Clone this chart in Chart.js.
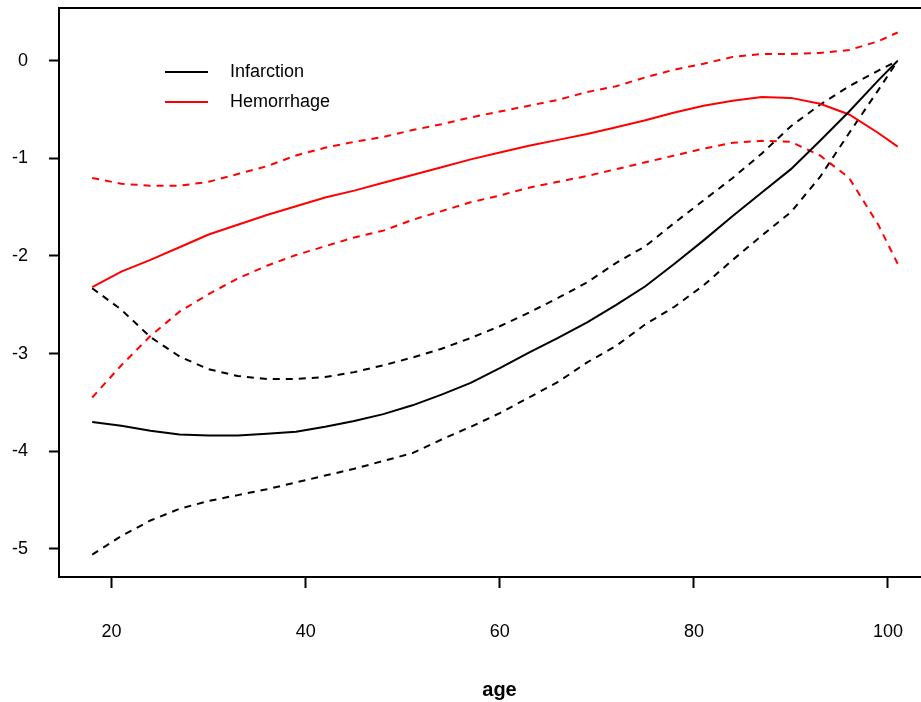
<!DOCTYPE html>
<html>
<head>
<meta charset="utf-8">
<script src="https://cdn.jsdelivr.net/npm/chart.js@4/dist/chart.umd.min.js"></script>
<style>
  html, body { margin: 0; padding: 0; background: #fff; overflow: hidden; }
  canvas { display: block; }
</style>
</head>
<body>
<canvas id="chart" width="940" height="702"></canvas>
<script>
const ages = [18, 21, 24, 27, 30, 33, 36, 39, 42, 45, 48, 51, 54, 57, 60, 63, 66, 69, 72, 75, 78, 81, 84, 87, 90, 93, 96, 99, 101];

// Infarction: estimate and its confidence band.
const infarction = [-3.70, -3.74, -3.79, -3.83, -3.84, -3.84, -3.82, -3.80, -3.75, -3.69, -3.62, -3.53, -3.42, -3.30, -3.15, -2.99, -2.84, -2.68, -2.50, -2.31, -2.08, -1.84, -1.59, -1.35, -1.11, -0.82, -0.52, -0.20, 0];
const infarctionUpper = [-2.33, -2.55, -2.83, -3.03, -3.16, -3.23, -3.26, -3.26, -3.24, -3.19, -3.12, -3.04, -2.95, -2.84, -2.72, -2.58, -2.43, -2.27, -2.07, -1.90, -1.66, -1.43, -1.20, -0.95, -0.67, -0.45, -0.26, -0.10, 0];
const infarctionLower = [-5.06, -4.87, -4.71, -4.59, -4.51, -4.45, -4.39, -4.32, -4.25, -4.18, -4.10, -4.02, -3.88, -3.75, -3.61, -3.45, -3.29, -3.09, -2.92, -2.70, -2.52, -2.30, -2.04, -1.79, -1.55, -1.19, -0.74, -0.30, 0];

// Hemorrhage: estimate and its confidence band.
const hemorrhage = [-2.32, -2.16, -2.04, -1.91, -1.78, -1.68, -1.58, -1.49, -1.40, -1.33, -1.25, -1.17, -1.09, -1.01, -0.94, -0.87, -0.81, -0.75, -0.68, -0.61, -0.53, -0.46, -0.41, -0.37, -0.38, -0.44, -0.55, -0.74, -0.88];
const hemorrhageUpper = [-1.20, -1.26, -1.28, -1.28, -1.24, -1.16, -1.08, -0.97, -0.89, -0.83, -0.78, -0.71, -0.65, -0.58, -0.52, -0.46, -0.40, -0.32, -0.26, -0.17, -0.09, -0.03, 0.04, 0.07, 0.07, 0.08, 0.11, 0.20, 0.29];
const hemorrhageLower = [-3.45, -3.12, -2.82, -2.57, -2.39, -2.23, -2.10, -1.99, -1.90, -1.81, -1.74, -1.63, -1.54, -1.45, -1.38, -1.30, -1.24, -1.18, -1.11, -1.04, -0.97, -0.90, -0.84, -0.82, -0.83, -0.97, -1.20, -1.68, -2.08];

// Tick labels.
const xTicks = [20, 40, 60, 80, 100];
const yTicks = [-5, -4, -3, -2, -1, 0];

const FONT = 'Arial, "Liberation Sans", sans-serif';

function points(values) {
  return ages.map((a, i) => ({ x: a, y: values[i] }));
}

function series(label, values, color, dashed, inLegend) {
  return {
    label: label,
    data: points(values),
    borderColor: color,
    borderWidth: 2,
    borderDash: dashed ? [7, 6] : [],
    pointRadius: 0,
    tension: 0,
    fill: false,
    inLegend: inLegend
  };
}

// Box round the plot: left, top and bottom sides (right side runs off the page).
const frame = {
  id: 'frame',
  afterDraw(chart) {
    const a = chart.chartArea;
    const ctx = chart.ctx;
    ctx.save();
    ctx.strokeStyle = '#000';
    ctx.lineWidth = 2;
    ctx.strokeRect(a.left, a.top, a.right - a.left, a.bottom - a.top);
    ctx.restore();
  }
};

// Legend drawn inside the plot, R style.
const innerLegend = {
  id: 'innerLegend',
  afterDraw(chart) {
    const ctx = chart.ctx;
    ctx.save();
    ctx.font = '18px ' + FONT;
    ctx.textBaseline = 'middle';
    let y = 72;
    chart.data.datasets.filter(d => d.inLegend).forEach(d => {
      ctx.strokeStyle = d.borderColor;
      ctx.lineWidth = 2;
      ctx.beginPath();
      ctx.moveTo(165, y);
      ctx.lineTo(208, y);
      ctx.stroke();
      ctx.fillStyle = '#000';
      ctx.fillText(d.label, 230, y);
      y += 30;
    });
    ctx.restore();
  }
};

const chart = new Chart('chart', {
  type: 'line',
  data: {
    datasets: [
      series('Infarction', infarction, '#000000', false, true),
      series('Hemorrhage', hemorrhage, '#ff0000', false, true),
      series('Infarction upper', infarctionUpper, '#000000', true, false),
      series('Infarction lower', infarctionLower, '#000000', true, false),
      series('Hemorrhage upper', hemorrhageUpper, '#ff0000', true, false),
      series('Hemorrhage lower', hemorrhageLower, '#ff0000', true, false)
    ]
  },
  options: {
    responsive: false,
    animation: false,
    devicePixelRatio: 1,
    layout: { padding: { top: 8, left: 0, right: 0, bottom: 0 } },
    plugins: {
      legend: { display: false },
      tooltip: { enabled: false }
    },
    scales: {
      x: {
        type: 'linear',
        min: 14.58,
        max: 105.36,
        afterBuildTicks: axis => { axis.ticks = xTicks.map(v => ({ value: v })); },
        afterFit: axis => { axis.height = 125; axis.paddingLeft = 0; axis.paddingRight = 0; },
        grid: { drawOnChartArea: false, drawTicks: true, tickLength: 11, tickWidth: 2, tickColor: '#000', color: '#000' },
        border: { display: false },
        ticks: { color: '#000', font: { family: FONT, size: 18 }, padding: 33, maxRotation: 0, autoSkip: false },
        title: { display: true, text: 'age', color: '#000', font: { family: FONT, size: 20, weight: 'bold' }, padding: { top: 24, bottom: 0 } }
      },
      y: {
        type: 'linear',
        min: -5.289,
        max: 0.541,
        afterBuildTicks: axis => { axis.ticks = yTicks.map(v => ({ value: v })); },
        afterFit: axis => { axis.width = 59; axis.paddingTop = 0; axis.paddingBottom = 0; },
        grid: { drawOnChartArea: false, drawTicks: true, tickLength: 10, tickWidth: 2, tickColor: '#000', color: '#000' },
        border: { display: false },
        ticks: { color: '#000', font: { family: FONT, size: 18 }, padding: 21 }
      }
    }
  },
  plugins: [frame, innerLegend]
});
</script>
</body>
</html>
